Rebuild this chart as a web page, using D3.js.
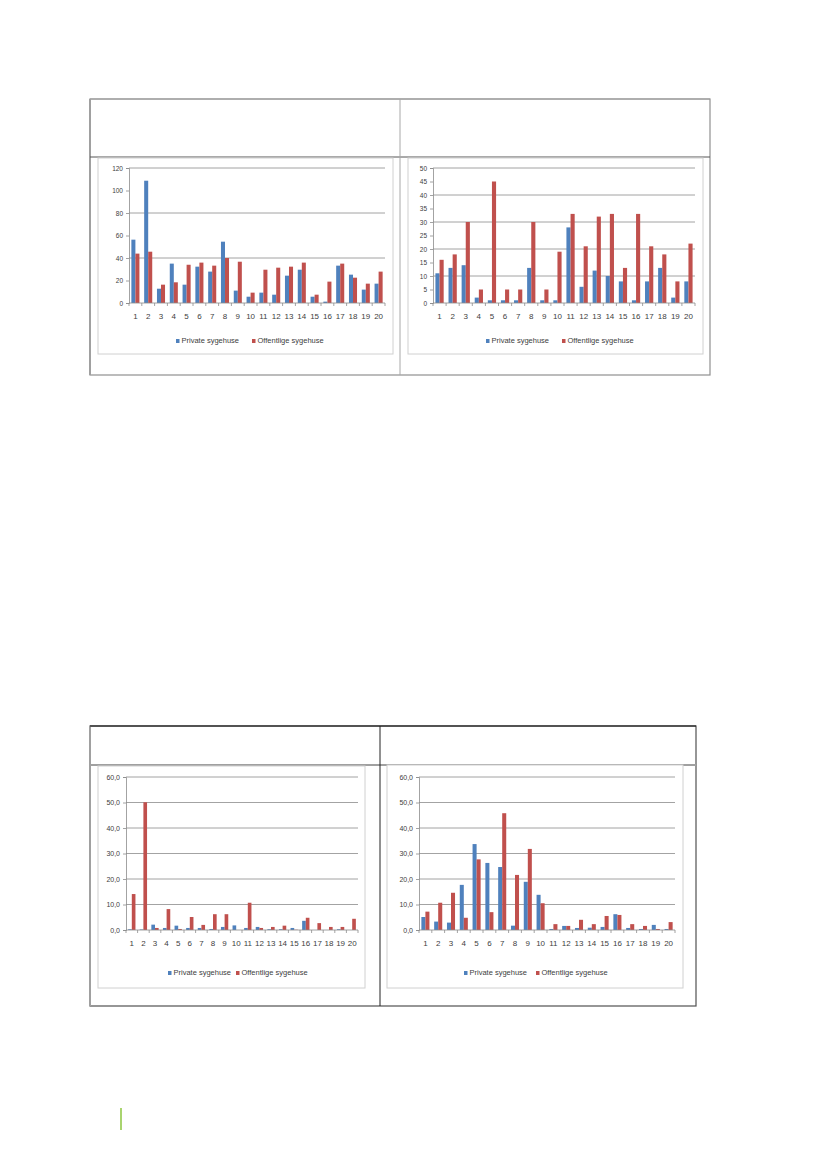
<!DOCTYPE html>
<html>
<head>
<meta charset="utf-8">
<script src="https://cdn.jsdelivr.net/npm/d3@7/dist/d3.min.js"></script>
<style>
    body { margin: 0; background: #fff; }
    text { font-family: "Liberation Sans Narrow", "Liberation Sans", sans-serif; fill: #404040; }
</style>
</head>
<body>
<svg id="page" width="826" height="1169"></svg>
<script>
// categories 1..20 on every chart
var categories = ["1","2","3","4","5","6","7","8","9","10","11","12","13","14","15","16","17","18","19","20"];
var seriesNames = ["Private sygehuse", "Offentlige sygehuse"];
var seriesColors = ["#4F81BD", "#C0504D"];

// chart 1 (top left)
var c1Private = [56.3, 108.7, 12.7, 35, 16.3, 32.3, 27.9, 54.5, 11, 5.6, 9.2, 7.4, 24.3, 29.6, 5.6, 1.2, 33.2, 25.2, 11.9, 17.2];
var c1Public  = [43.9, 45.6, 16.3, 18.4, 34, 35.9, 33.2, 40, 36.7, 9.2, 29.6, 31.4, 32.3, 35.9, 7.4, 19, 35, 22.5, 17.2, 27.9];
var c1Labels  = [0, 20, 40, 60, 80, 100, 120];
var c1Grid    = [40, 80, 120];

// chart 2 (top right)
var c2Private = [11, 13, 14, 2, 1, 1, 1, 13, 1, 1, 28, 6, 12, 10, 8, 1, 8, 13, 2, 8];
var c2Public  = [16, 18, 30, 5, 45, 5, 5, 30, 5, 19, 33, 21, 32, 33, 13, 33, 21, 18, 8, 22];
var c2Labels  = [0, 5, 10, 15, 20, 25, 30, 35, 40, 45, 50];
var c2Grid    = [10, 20, 30, 40, 50];

// chart 3 (bottom left)
var c3Private = [0.3, 0.2, 2.1, 0.8, 1.7, 0.8, 0.8, 0.4, 1.2, 1.8, 0.8, 1.2, 0.3, 0.3, 0.8, 3.6, 0, 0, 0.3, 0];
var c3Public  = [14.1, 50.1, 0.8, 8.2, 0.4, 5.1, 2, 6.2, 6.2, 0, 10.7, 0.8, 1.2, 1.7, 0.1, 4.8, 2.7, 1.2, 1.2, 4.4];
var c3Labels  = [0, 10, 20, 30, 40, 50, 60];
var c3Grid    = [10, 20, 30, 40, 50, 60];

// chart 4 (bottom right)
var c4Private = [5.1, 3.3, 2.9, 17.7, 33.7, 26.3, 24.7, 1.7, 18.9, 13.8, 0.4, 1.6, 0.8, 0.9, 1.2, 6.2, 0.8, 0.4, 2, 0.4];
var c4Public  = [7.2, 10.7, 14.6, 4.8, 27.7, 7, 45.8, 21.6, 31.8, 10.5, 2.3, 1.6, 4, 2.3, 5.5, 5.9, 2.3, 1.6, 0.4, 3.1];
var c4Labels  = [0, 10, 20, 30, 40, 50, 60];
var c4Grid    = [10, 20, 30, 40, 50, 60];

var svg = d3.select("#page");
var commaFmt = function (d) { return d3.format(".1f")(d).replace(".", ","); };

function drawTable(t) {
    var g = svg.append("g");
    g.append("rect").attr("x", t.x0).attr("y", t.y0).attr("width", t.x1 - t.x0).attr("height", t.y1 - t.y0)
        .attr("fill", "none").attr("stroke", t.outer).attr("stroke-width", 1.2);
    g.append("line").attr("x1", t.x0).attr("x2", t.x0).attr("y1", t.y0).attr("y2", t.y1)
        .attr("stroke", "#a0a0a0").attr("stroke-width", 2);
    g.append("line").attr("x1", t.x0).attr("x2", t.x1).attr("y1", t.y0).attr("y2", t.y0)
        .attr("stroke", t.top).attr("stroke-width", 1.2);
    g.append("line").attr("x1", t.x0).attr("x2", t.x1).attr("y1", t.head).attr("y2", t.head)
        .attr("stroke", t.headColor).attr("stroke-width", t.headWidth);
    g.append("line").attr("x1", t.mid).attr("x2", t.mid).attr("y1", t.y0).attr("y2", t.y1)
        .attr("stroke", t.midColor).attr("stroke-width", 1);
}

function drawChart(cfg) {
    var g = svg.append("g");
    // chart area frame
    g.append("rect").attr("x", cfg.frame[0]).attr("y", cfg.frame[1])
        .attr("width", cfg.frame[2] - cfg.frame[0]).attr("height", cfg.frame[3] - cfg.frame[1])
        .attr("fill", "#fff").attr("stroke", "#d0d0d0").attr("stroke-width", 1);

    var y = d3.scaleLinear().domain([0, cfg.max]).range([cfg.bottom, cfg.top]);
    var x = d3.scaleBand().domain(categories).range([cfg.left, cfg.right])
        .paddingInner(0.37).paddingOuter(0.185);
    var xs = d3.scaleBand().domain([0, 1]).range([0, x.bandwidth()]);

    // gridlines
    g.selectAll(".grid").data(cfg.grid).enter().append("line")
        .attr("x1", cfg.left).attr("x2", cfg.right)
        .attr("y1", function (d) { return y(d); }).attr("y2", function (d) { return y(d); })
        .attr("stroke", "#8c8c8c").attr("stroke-width", 0.8);

    // y axis
    var yAxis = d3.axisLeft(y).tickValues(cfg.labels).tickSize(3).tickPadding(3).tickFormat(cfg.fmt);
    var ya = g.append("g").attr("transform", "translate(" + cfg.left + ",0)").call(yAxis);
    ya.select(".domain").attr("stroke", "#8c8c8c").attr("stroke-width", 0.8);
    ya.selectAll(".tick line").attr("stroke", "#8c8c8c").attr("stroke-width", 0.8);
    ya.selectAll(".tick text").style("font-size", cfg.yFont + "px").attr("fill", "#404040");

    // bars
    var series = [cfg.priv, cfg.pub];
    series.forEach(function (vals, si) {
        g.selectAll(".bar" + si).data(vals).enter().append("rect")
            .attr("x", function (d, i) { return x(categories[i]) + xs(si); })
            .attr("y", function (d) { return y(d); })
            .attr("width", xs.bandwidth())
            .attr("height", function (d) { return cfg.bottom - y(d); })
            .attr("fill", seriesColors[si]);
    });

    // x axis line, boundary ticks and labels
    g.append("line").attr("x1", cfg.left).attr("x2", cfg.right).attr("y1", cfg.bottom).attr("y2", cfg.bottom)
        .attr("stroke", "#8c8c8c").attr("stroke-width", 0.8);
    var edge = (x.step() - x.bandwidth()) / 2;
    var bounds = categories.map(function (c) { return x(c) - edge; }).concat([cfg.right]);
    g.selectAll(".xt").data(bounds).enter().append("line")
        .attr("x1", function (d) { return d; }).attr("x2", function (d) { return d; })
        .attr("y1", cfg.bottom).attr("y2", cfg.bottom + 3)
        .attr("stroke", "#8c8c8c").attr("stroke-width", 0.8);
    g.selectAll(".xl").data(categories).enter().append("text")
        .attr("x", function (d) { return x(d) + x.bandwidth() / 2; })
        .attr("y", cfg.bottom + 16)
        .attr("text-anchor", "middle")
        .style("font-size", cfg.xFont + "px")
        .text(function (d) { return d; });

    // legend
    seriesNames.forEach(function (name, si) {
        g.append("rect").attr("x", cfg.legend[si]).attr("y", cfg.legendY - 4)
            .attr("width", 3.5).attr("height", 4).attr("fill", seriesColors[si]);
        g.append("text").attr("x", cfg.legend[si] + 5.5).attr("y", cfg.legendY)
            .style("font-size", "7.5px").text(name);
    });
}

drawTable({ x0: 90, x1: 710, y0: 99, y1: 375, head: 157, mid: 400,
    outer: "#909090", top: "#a0a0a0", headColor: "#555", headWidth: 1, midColor: "#a8a8a8" });
drawTable({ x0: 90, x1: 696, y0: 726, y1: 1006, head: 765, mid: 380,
    outer: "#505050", top: "#111", headColor: "#a0a0a0", headWidth: 2, midColor: "#222" });

drawChart({ frame: [98, 158, 393, 354], left: 129, right: 385, top: 168, bottom: 303,
    max: 120, labels: c1Labels, grid: c1Grid, fmt: d3.format("d"), priv: c1Private, pub: c1Public,
    legend: [176, 252], legendY: 343, yFont: 6.5, xFont: 8 });
drawChart({ frame: [408, 158, 703, 354], left: 433, right: 695, top: 168, bottom: 303,
    max: 50, labels: c2Labels, grid: c2Grid, fmt: d3.format("d"), priv: c2Private, pub: c2Public,
    legend: [486, 562], legendY: 343, yFont: 6.5, xFont: 8 });
drawChart({ frame: [98, 766, 365, 988], left: 126, right: 358, top: 777, bottom: 930,
    max: 60, labels: c3Labels, grid: c3Grid, fmt: commaFmt, priv: c3Private, pub: c3Public,
    legend: [168, 236], legendY: 975, yFont: 7, xFont: 8 });
drawChart({ frame: [387, 765, 683, 988], left: 419, right: 675, top: 777, bottom: 930,
    max: 60, labels: c4Labels, grid: c4Grid, fmt: commaFmt, priv: c4Private, pub: c4Public,
    legend: [464, 536], legendY: 975, yFont: 7, xFont: 8 });

// page margin mark
svg.append("line").attr("x1", 121).attr("x2", 121).attr("y1", 1108).attr("y2", 1130)
    .attr("stroke", "#8DC63F").attr("stroke-width", 1.5);
</script>
</body>
</html>
